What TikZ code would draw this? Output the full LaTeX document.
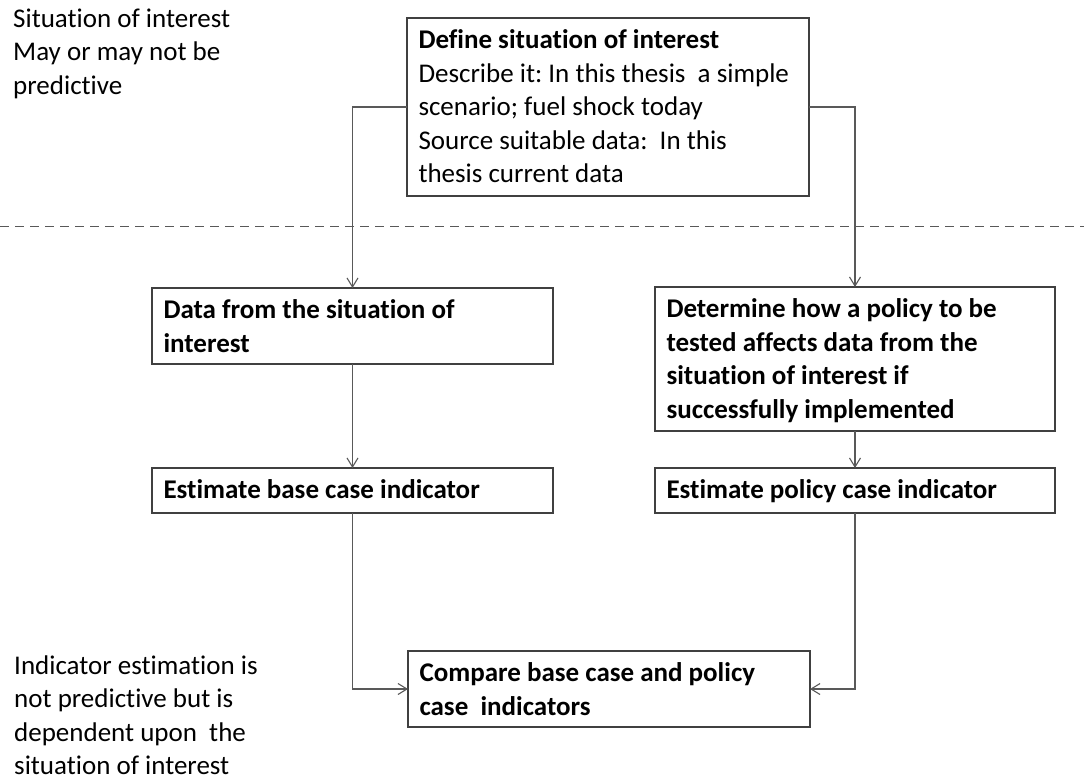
\documentclass[tikz,border=0pt]{standalone}
\usepackage{fontspec}
\setmainfont{Carlito}[Ligatures=NoCommon]
\usetikzlibrary{arrows.meta}
\definecolor{boxc}{HTML}{404040}
\definecolor{linec}{HTML}{595959}
\newcommand\fz{\fontsize{27}{33.5}\selectfont}
\newcommand\bt[3]{\parbox[c][#2][t]{#1}{\raggedright\rule{0pt}{30.5pt}#3}}
\frenchspacing
\begin{document}
\begin{tikzpicture}[x=1pt,y=-1pt,
  box/.style={draw=boxc, line width=1.3pt, anchor=north west, inner xsep=11.5pt, inner ysep=0pt, outer sep=0pt, font=\fz},
  free/.style={anchor=base west, inner sep=0pt, font=\fz},
  conn/.style={draw=linec, line width=1.1pt, -{Straight Barb[length=9pt,width=11pt]}},
  sep/.style={draw=linec, line width=1pt, dash pattern=on 9pt off 6pt}]
\useasboundingbox (0,0) rectangle (1084,780);
\node[box] (define) at (407,18) {\bt{379pt}{178pt}{\textbf{Define situation of interest}\\Describe it: In this thesis\ \ a simple\\scenario; fuel shock today\\Source suitable data:\ \ In this\\thesis current data}};
\node[box] (data) at (152,288) {\bt{378pt}{76pt}{\textbf{Data from the situation of}\\\textbf{interest}}};
\node[box] (policy) at (655,287) {\bt{377pt}{144pt}{\textbf{Determine how a policy to be}\\\textbf{tested affects data from the}\\\textbf{situation of interest if}\\\textbf{successfully implemented}}};
\node[box] (base) at (152,468) {\bt{378pt}{45pt}{\textbf{Estimate base case indicator}}};
\node[box] (polcase) at (655,468) {\bt{377pt}{45pt}{\textbf{Estimate policy case indicator}}};
\node[box] (compare) at (408,651) {\bt{379pt}{76pt}{\textbf{Compare base case and policy}\\\textbf{case\ \ indicators}}};
\node[free] (sit) at (13,27) {\parbox[t]{260pt}{Situation of interest\\May or may not be\\predictive}};
\node[free] (ind) at (14,674) {\parbox[t]{260pt}{Indicator estimation is\\not predictive but is\\dependent upon\ \ the\\situation of interest}};
\draw[sep] (0,226) -- (1084,226);
\draw[conn] (define.west) -| (data.north);
\draw[conn] (define.east) -| (policy.north);
\draw[conn] (data.south) -- (base.north);
\draw[conn] (policy.south) -- (polcase.north);
\draw[conn] (base.south) |- (compare.west);
\draw[conn] (polcase.south) |- (compare.east);
\end{tikzpicture}
\end{document}
